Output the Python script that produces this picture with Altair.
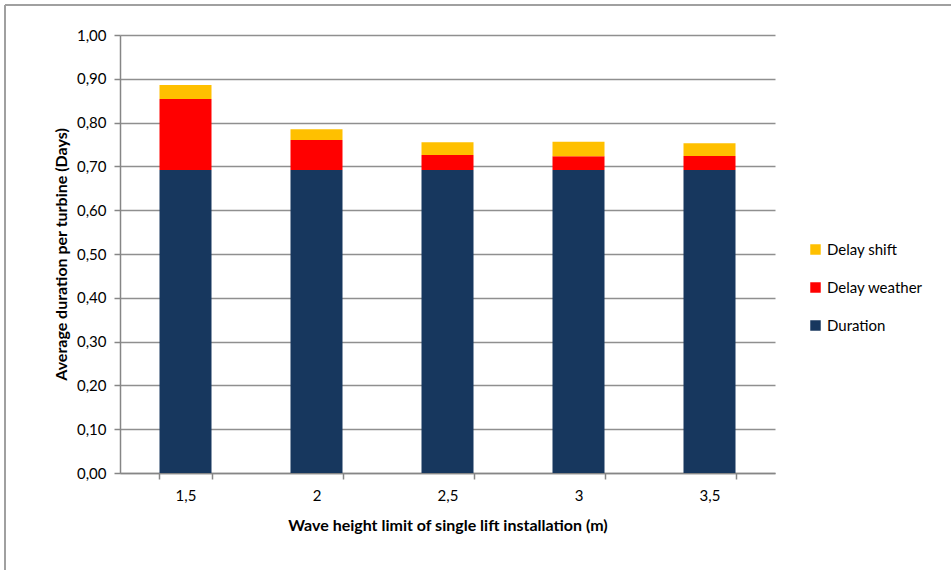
import altair as alt
import pandas as pd

# Wave height limits (categories) and stacked components in days per turbine
heights = ["1,5", "2", "2,5", "3", "3,5"]
duration = [0.692, 0.692, 0.692, 0.692, 0.692]
delay_weather = [0.162, 0.068, 0.034, 0.031, 0.032]
delay_shift = [0.032, 0.025, 0.029, 0.033, 0.029]

series = ["Delay shift", "Delay weather", "Duration"]
colors = ["#FFC000", "#FF0000", "#17375E"]
stack_rank = {"Duration": 0, "Delay weather": 1, "Delay shift": 2}

rows = []
for i, h in enumerate(heights):
    for name, vals in (("Duration", duration), ("Delay weather", delay_weather), ("Delay shift", delay_shift)):
        rows.append({"height": h, "series": name, "value": vals[i], "rank": stack_rank[name]})
df = pd.DataFrame(rows)

FONT = "Lato"
W, H = 655, 438

bars = alt.Chart(df).mark_bar(size=52).encode(
    x=alt.X("height:N", sort=heights,
            scale=alt.Scale(paddingInner=0.6, paddingOuter=0.3),
            axis=alt.Axis(title="Wave height limit of single lift installation (m)",
                          labelAngle=0, tickBand="extent", tickSize=6,
                          labelPadding=9, titlePadding=14)),
    y=alt.Y("value:Q", stack="zero",
            scale=alt.Scale(domain=[0, 1.0], nice=False),
            axis=alt.Axis(title="Average duration per turbine (Days)",
                          values=[i / 10 for i in range(11)],
                          labelExpr="replace(format(datum.value, '.2f'), '.', ',')",
                          tickSize=6, labelPadding=8, titlePadding=7)),
    color=alt.Color("series:N", sort=series,
                    scale=alt.Scale(domain=series, range=colors),
                    legend=alt.Legend(title=None, orient="none", legendX=688, legendY=207,
                                      symbolType="square", symbolSize=110,
                                      symbolStrokeWidth=0, rowPadding=22,
                                      labelFontSize=15, labelFont=FONT,
                                      labelColor="#000000")),
    order=alt.Order("rank:Q", sort="ascending"),
)

# Frame around the chart (left and top edges)
frame_top = alt.Chart(df).mark_rule(color="#a0a0a0", strokeWidth=2).encode(
    x=alt.value(-115), x2=alt.value(900), y=alt.value(-30))
frame_left = alt.Chart(df).mark_rule(color="#a0a0a0", strokeWidth=2).encode(
    x=alt.value(-115), y=alt.value(-30), y2=alt.value(600))

chart = alt.layer(bars, frame_top, frame_left).properties(
    width=W, height=H,
    background="white",
    autosize=alt.AutoSizeParams(type="none"),
    padding={"left": 120, "top": 35, "right": 951 - 120 - W, "bottom": 570 - 35 - H},
).configure_view(stroke=None).configure_axis(
    domainColor="#868686", domainWidth=1.5,
    tickColor="#868686", tickWidth=1.5,
    gridColor="#8f8f8f", gridWidth=1.5, gridOpacity=1,
    labelFont=FONT, labelFontSize=15, labelColor="#000000",
    titleFont=FONT, titleFontSize=16, titleFontWeight="bold", titleColor="#000000",
).configure_axisX(grid=False)

chart.save("out.html", embed_options={"renderer": "svg", "actions": False})
